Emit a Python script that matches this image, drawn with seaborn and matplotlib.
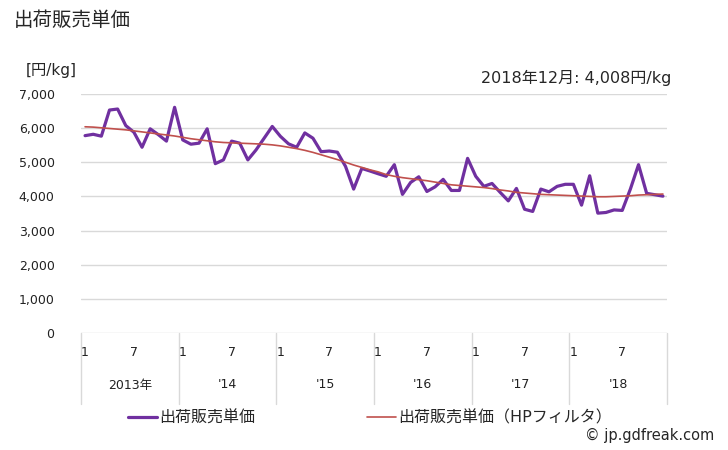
import matplotlib
matplotlib.use("Agg")
import matplotlib.pyplot as plt
import seaborn as sns
import pandas as pd

# monthly unit price (yen/kg), Jan 2013 - Dec 2018
price = [5780, 5820, 5765, 6530, 6560, 6075, 5880, 5440, 5980, 5810, 5620, 6610,
         5655, 5530, 5560, 5980, 4960, 5070, 5620, 5560, 5070, 5360, 5705, 6050,
         5760, 5540, 5440, 5860, 5705, 5310, 5330, 5295, 4880, 4215, 4820, 4745,
         4665, 4590, 4930, 4060, 4410, 4575, 4145, 4280, 4500, 4175, 4175, 5115,
         4590, 4295, 4380, 4120, 3870, 4235, 3625, 3560, 4215, 4135, 4295, 4355,
         4355, 3745, 4605, 3510, 3530, 3605, 3590, 4215, 4930, 4090, 4050, 4008]

# HP filter trend
trend = [6040, 6030, 6010, 5990, 5970, 5950, 5920, 5890, 5860, 5830, 5800, 5770,
         5730, 5690, 5660, 5630, 5600, 5580, 5570, 5560, 5550, 5540, 5530, 5510,
         5480, 5440, 5400, 5350, 5290, 5220, 5150, 5080, 5000, 4920, 4850, 4780,
         4720, 4640, 4590, 4550, 4520, 4490, 4460, 4420, 4380, 4340, 4320, 4300,
         4280, 4260, 4230, 4190, 4160, 4120, 4100, 4080, 4060, 4050, 4040, 4030,
         4020, 4010, 4000, 3990, 3990, 4000, 4010, 4020, 4040, 4050, 4060, 4070]

year_labels = ["2013年", "'14", "'15", "'16", "'17", "'18"]
month_labels = ["1", "7"]
y_ticks = [0, 1000, 2000, 3000, 4000, 5000, 6000, 7000]

s1 = "出荷販売単価"
s2 = "出荷販売単価（HPフィルタ）"
purple = "#7030A0"
red = "#C0504D"

df = pd.DataFrame({
    "t": list(range(72)) * 2,
    "value": price + trend,
    "series": [s1] * 72 + [s2] * 72,
})

sns.set_style("white")
plt.rcParams["font.family"] = ["DejaVu Sans", "Noto Sans CJK JP"]

fig = plt.figure(figsize=(7.28, 4.5), dpi=100)
ax = fig.add_axes([81 / 728, 1 - 333 / 450, 586 / 728, 239 / 450])

sns.lineplot(data=df, x="t", y="value", hue="series", size="series",
             sizes={s1: 2.3, s2: 1.2},
             palette={s1: purple, s2: red}, ax=ax, legend=False)

ax.set_xlim(-0.5, 71.5)
ax.set_ylim(0, 7000)
ax.set_yticks(y_ticks)
ax.set_yticklabels([f"{v:,}" for v in y_ticks], fontsize=9, color="#222222")
ax.tick_params(axis="y", length=0, pad=19)
ax.set_xticks([])
ax.set_xlabel("")
ax.set_ylabel("")
for v in y_ticks:
    ax.axhline(v, color="#d9d9d9", lw=1, zorder=0)
for sp in ax.spines.values():
    sp.set_visible(False)

# category table under the axis
tr = ax.get_xaxis_transform()
for k in range(7):
    ax.plot([k * 12 - 0.5, k * 12 - 0.5], [0, -71 / 239], transform=tr,
            color="#d9d9d9", lw=1, clip_on=False)
for k, yl in enumerate(year_labels):
    for m, ml in zip([0, 6], month_labels):
        ax.text(k * 12 + m, -20 / 239, ml, transform=tr, ha="center", va="center",
                fontsize=9, color="#222222")
    ax.text(k * 12 + 5.5, -52 / 239, yl, transform=tr, ha="center", va="center",
            fontsize=9, color="#222222")

fig.text(14 / 728, 1 - 20 / 450, "出荷販売単価", fontsize=14, va="center", ha="left")
fig.text(26 / 728, 1 - 71 / 450, "[円/kg]", fontsize=11, va="center", ha="left")
fig.text(671 / 728, 1 - 78 / 450, "2018年12月: 4,008円/kg", fontsize=11.5,
         va="center", ha="right")

handles = [plt.Line2D([], [], color=purple, lw=2.3),
           plt.Line2D([], [], color=red, lw=1.2)]
fig.legend(handles, [s1, s2], loc="center left", bbox_to_anchor=(128 / 728, 1 - 418 / 450),
           ncol=2, frameon=False, fontsize=11.5, handlelength=1.8, handletextpad=0.15,
           columnspacing=7.0, borderaxespad=0, borderpad=0)

fig.text(714 / 728, 1 - 435 / 450, "© jp.gdfreak.com", fontsize=10.5, ha="right", va="center")

fig.savefig("out.png", dpi=100)
